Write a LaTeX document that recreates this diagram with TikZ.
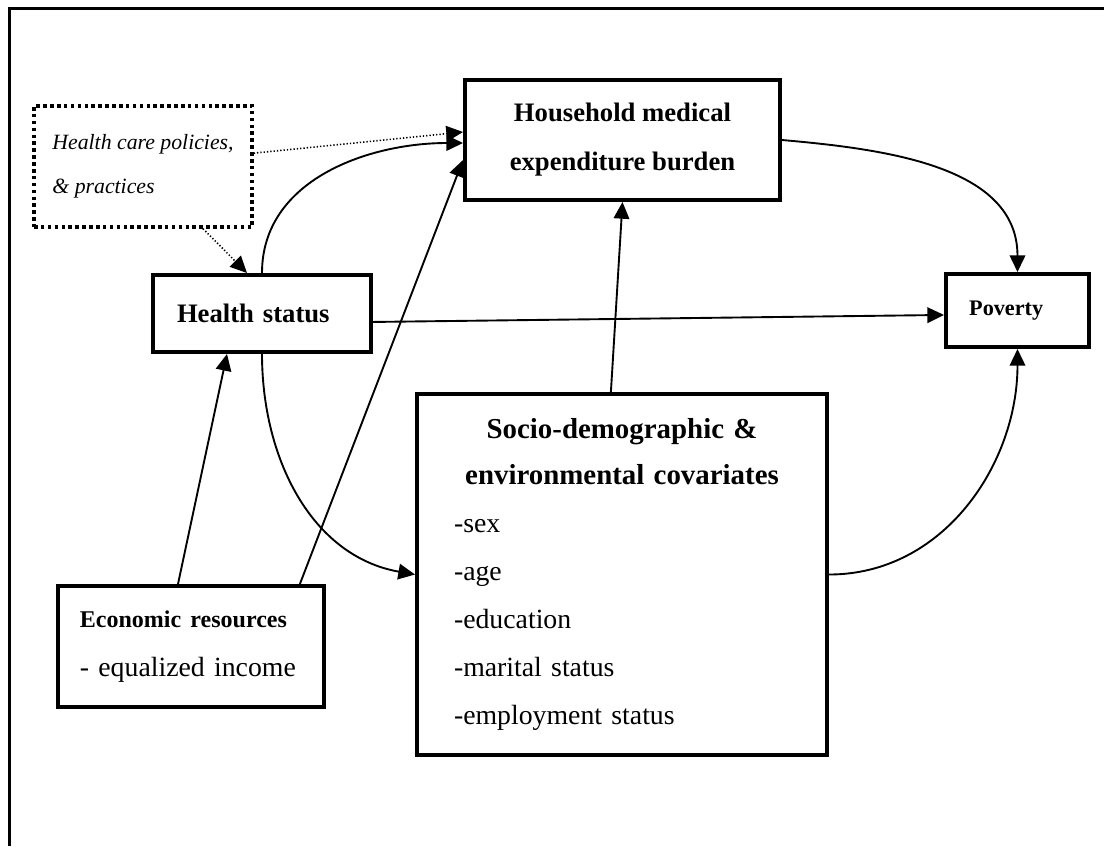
\documentclass[tikz,border=0pt]{standalone}
\usepackage{fontspec}
\setmainfont{Liberation Serif}
\usetikzlibrary{arrows.meta}

\begin{document}
\begin{tikzpicture}[x=0.45pt, y=-0.45pt,
	box/.style={draw, line width=1.8pt, inner sep=0pt},
	link/.style={line width=0.85pt, -{Triangle[length=7.5pt,width=7pt]}},
	dotlink/.style={link, line width=0.7pt, dash pattern=on 0.6pt off 0.9pt}]
	\useasboundingbox (0,0) rectangle (1104,846);
	\draw[line width=1.35pt] (9,846) -- (9,8.5) -- (1104,8.5);

	\node[box, line width=1.5pt, dash pattern=on 1.6pt off 1.5pt, minimum width=98.1pt, minimum height=54.45pt, align=left, font=\fontsize{9.8}{20}\itshape] (policy) at (143,166.5) {Health care policies,\\\& practices};
	\node[box, minimum width=141.75pt, minimum height=54pt, align=center, font=\fontsize{12}{22}\bfseries] (burden) at (622.5,140) {Household medical\\expenditure burden};
	\node[box, minimum width=98.1pt, minimum height=34.65pt, text width=76.5pt, inner xsep=10.8pt, align=left, font=\fontsize{12}{14}\bfseries] (health) at (262,313.5) {Health status};
	\node[box, minimum width=64.35pt, minimum height=32.85pt, text width=43.5pt, inner xsep=10.4pt, align=left, font=\fontsize{10}{12}\bfseries] (poverty) at (1017.5,310.5) {\raisebox{-1pt}{Poverty}};
	\node[box, minimum width=184.5pt, minimum height=162.45pt, text width=151.2pt, inner xsep=16.6pt, font=\fontsize{12.5}{21.6}\selectfont] (covar) at (622,574.5) {{\centering\bfseries\fontsize{13}{21}\selectfont Socio-demographic \&\\environmental covariates\par}\noindent -sex\\-age\\-education\\-marital status\\-employment status};
	\node[box, minimum width=119.7pt, minimum height=54.45pt, text width=100pt, inner xsep=9.85pt, align=left, font=\fontsize{12.5}{22}\selectfont] (econ) at (191,646.5) {{\bfseries\fontsize{10.8}{22}\selectfont Economic resources}\\- equalized income};

	\draw[dotlink] ([yshift=6pt]policy.east) -- ([yshift=3.6pt]burden.west);
	\draw[dotlink] ([xshift=27pt]policy.south) -- ([xshift=-6.75pt]health.north);
	\draw[link] (health.north) to[out=90, in=180] ([yshift=-1.35pt]burden.west);
	\draw[link] ([xshift=-5.85pt]econ.north) -- ([xshift=-15.75pt]health.south);
	\draw[link] ([xshift=49pt]econ.north) -- ([yshift=-9pt]burden.west);
	\draw[link] (health.south) to[out=-90, in=170] (covar.west);
	\draw[link] ([yshift=-3.8pt]health.east) -- ([yshift=-2pt]poverty.west);
	\draw[link] ([xshift=-5pt]covar.north) -- (burden.south);
	\draw[link] (burden.east) to[out=-5, in=90] (poverty.north);
	\draw[link] (covar.east) to[out=0, in=-90] (poverty.south);
\end{tikzpicture}
\end{document}
